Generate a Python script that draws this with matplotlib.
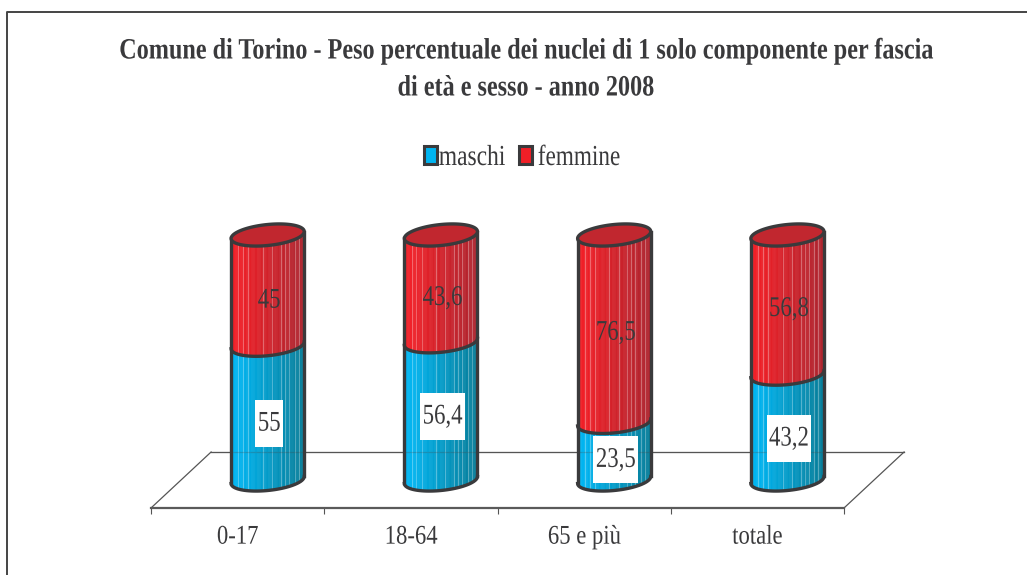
import numpy as np
import matplotlib
matplotlib.use('Agg')
import matplotlib.pyplot as plt
from matplotlib.patches import Rectangle
from matplotlib.patheffects import AbstractPathEffect
from matplotlib.transforms import Affine2D
from matplotlib.lines import Line2D

categorie = ['0-17', '18-64', '65 e più', 'totale']
maschi = [55, 56.4, 23.5, 43.2]
femmine = [45, 43.6, 76.5, 56.8]
etichette_m = ['55', '56,4', '23,5', '43,2']
etichette_f = ['45', '43,6', '76,5', '56,8']

# where the labels sit on the y scale (Excel put them a bit off centre)
pos_m = [23.0, 25.9, 8.2, 16.9]
pos_f = [73.2, 74.3, 60.1, 69.8]

# pale ribs of the cylinder, -1 left edge, 1 right edge
costole = [-0.8, -0.67, -0.53, -0.13, 0.12, 0.36, 0.47, 0.58, 0.74, 0.85]

W, H = 1027, 575
plt.rcParams['font.family'] = 'Liberation Serif'
GRIGIO = '#3a3a3c'
BLU = ('#00b4f0', '#067f9c')
ROSSO = ('#f01f27', '#b0242e')


# the original text is tightly set, so squeeze each string around its centre
class Stringi(AbstractPathEffect):
    def __init__(self, k):
        super().__init__()
        self.k = k

    def draw_path(self, renderer, gc, tpath, affine, rgbFace=None):
        ext = tpath.transformed(affine).get_extents()
        cx = (ext.x0 + ext.x1) / 2
        sq = Affine2D().translate(-cx, 0).scale(self.k, 1).translate(cx, 0)
        renderer.draw_path(gc, tpath, affine + sq, rgbFace)


def scritta(x, y, s, size, k, **kw):
    # x, y in pixels of the picture
    return fig.text(x / W, 1 - y / H, s, fontsize=size * 0.72, color=kw.pop('color', GRIGIO),
                    ha='center', va='center', path_effects=[Stringi(k)], **kw)


fig = plt.figure(figsize=(W / 100, H / 100), dpi=100)
ax = fig.add_axes([151 / W, 1 - 508 / H, 693 / W, 273 / H])
ax.set_xlim(0, 4)
ax.set_ylim(-11.43, 100)
ax.patch.set_visible(False)

# size of the cylinders on the axes scales
a = 36.5 / 173
b = 10.5 / 2.45
sk = 3.5 / 2.45
dx = 30 / 173


def orlo(cx, y, t):
    return cx + a * np.cos(t), y + b * np.sin(t) + sk * np.cos(t)


def fetta(cx, y0, y1, colori, zorder):
    c0 = np.array(matplotlib.colors.to_rgb(colori[0]))
    c1 = np.array(matplotlib.colors.to_rgb(colori[1]))
    bordi = np.linspace(-1, 1, 61)
    for i in range(60):
        u0, u1 = bordi[i], bordi[i + 1]
        t = np.linspace(np.arccos(u0), np.arccos(u1), 4)
        # front edge of the slice goes along the lower half of the ellipse
        xx = cx + a * np.cos(t)
        fr = -b * np.sin(t) + sk * np.cos(t)
        m = (u0 + u1) / 2
        f = np.clip((m + 0.8) / 1.7, 0, 1)
        col = c0 * (1 - f) + c1 * f
        ax.fill_between(xx, y0 + fr, y1 + fr, color=col, lw=0.4, zorder=zorder, clip_on=False)
    for u in costole:
        xr = cx + a * u
        fr = -b * np.sqrt(1 - u * u) + sk * u
        ax.plot([xr, xr], [y0 + fr, y1 + fr], color='white', alpha=0.3, lw=0.8, zorder=zorder + 0.1,
                clip_on=False)


for i in range(len(categorie)):
    cx = i + 0.5 + dx
    top = maschi[i] + femmine[i]
    fetta(cx, 0, maschi[i], BLU, 2)
    fetta(cx, maschi[i], top, ROSSO, 2)

    # bottom and sides
    t = np.linspace(np.pi, 2 * np.pi, 60)
    xb, yb = orlo(cx, 0, t)
    ax.plot(xb, yb, color=GRIGIO, lw=2.4, zorder=4, clip_on=False)
    xm, ym = orlo(cx, maschi[i], t)
    ax.plot(xm, ym, color=GRIGIO, lw=2.4, zorder=4, clip_on=False)
    ax.plot([cx - a, cx - a], [-sk, top - sk], color=GRIGIO, lw=2.4, zorder=4, clip_on=False)
    ax.plot([cx + a, cx + a], [sk, top + sk], color=GRIGIO, lw=2.4, zorder=4, clip_on=False)

    # lid
    t = np.linspace(0, 2 * np.pi, 120)
    xt, yt = orlo(cx, top, t)
    ax.fill(xt, yt, facecolor='#c1272f', edgecolor=GRIGIO, lw=2.4, zorder=5, clip_on=False)

    for s, yy, box in ((etichette_m[i], pos_m[i], True), (etichette_f[i], pos_f[i], False)):
        k = 0.8
        tx = ax.text(cx + 1.5 / 173, yy, s, fontsize=28.5 * 0.72, color=GRIGIO, ha='center', va='center',
                     zorder=7, path_effects=[Stringi(k)])
        if box:
            larg = tx.get_window_extent(fig.canvas.get_renderer()).width * k + 5
            ax.add_patch(Rectangle((cx + 1.5 / 173 - larg / 2 / 173, yy - 23.5 / 2.45), larg / 173, 47 / 2.45,
                                   facecolor='white', edgecolor='none', zorder=6, clip_on=False))

# floor
prof = 2 * dx
fondo = 11.43
ax.plot([0, prof], [-fondo, fondo], color='#555555', lw=0.9, zorder=1, clip_on=False)
ax.plot([4, 4 + prof], [-fondo, fondo], color='#555555', lw=0.9, zorder=1, clip_on=False)
ax.plot([prof, 4 + prof], [fondo, fondo], color='#555555', lw=0.9, zorder=1, clip_on=False)
# the back line shows faintly through the bars
ax.plot([prof, 4 + prof], [fondo, fondo], color='#555555', lw=0.9, alpha=0.25, zorder=3, clip_on=False)

for s in ('top', 'left', 'right'):
    ax.spines[s].set_visible(False)
ax.spines['bottom'].set_color('#5a5a5a')
ax.spines['bottom'].set_linewidth(1.6)
ax.set_yticks([])
ax.set_xticks(range(5))
ax.set_xticklabels([])
ax.tick_params(axis='x', which='major', length=4, width=0.8, color='#555555')
ax.set_xticks(np.arange(4) + 0.5, minor=True)
ax.set_xticklabels(categorie, minor=True)
ax.tick_params(axis='x', which='minor', length=0, pad=12, labelsize=27 * 0.72, labelcolor=GRIGIO)
for lab in ax.get_xticklabels(minor=True):
    lab.set_path_effects([Stringi(0.84)])

# title
scritta(526.5, 51, 'Comune di Torino - Peso percentuale dei nuclei di 1 solo componente per fascia', 29.5, 0.82,
        fontweight='bold')
scritta(526, 88, 'di età e sesso - anno 2008', 29.5, 0.82, fontweight='bold')

# legend
scritta(472, 158, 'maschi', 29, 0.81)
scritta(579, 158, 'femmine', 29, 0.8)
fig.add_artist(Rectangle((423.5 / W, 1 - 164 / H), 13 / W, 18 / H, transform=fig.transFigure,
                         facecolor=BLU[0], edgecolor=GRIGIO, lw=2.2))
fig.add_artist(Rectangle((519 / W, 1 - 164 / H), 13 / W, 18 / H, transform=fig.transFigure,
                         facecolor=ROSSO[0], edgecolor=GRIGIO, lw=2.2))

# outer border: left and top only, the rest is cut off in the scan
fig.add_artist(Line2D([7 / W, 7 / W, 1], [0, 1 - 12 / H, 1 - 12 / H],
                      transform=fig.transFigure, color='#444444', lw=1.4))

fig.savefig('out.png', dpi=100)
